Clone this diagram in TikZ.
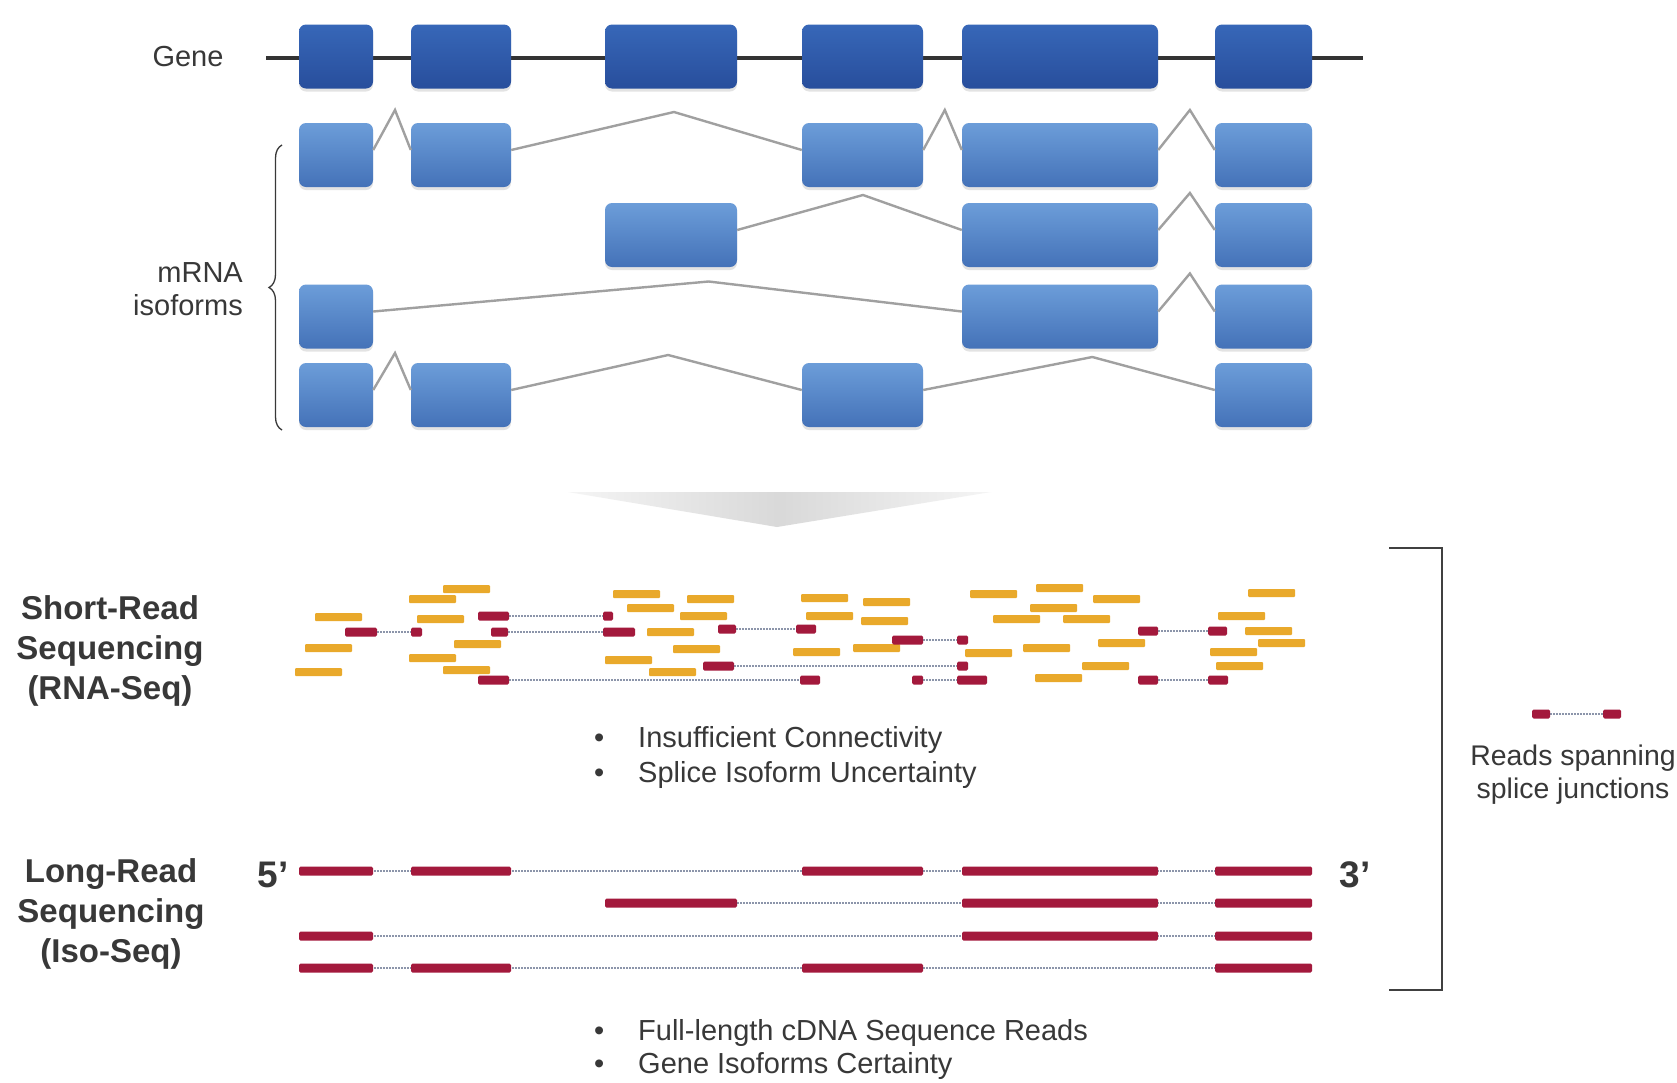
\documentclass[tikz,border=0pt]{standalone}
\usepackage{fontspec}
\setmainfont{Liberation Sans}
\usetikzlibrary{calc,decorations.pathreplacing,shadows}

\definecolor{genetop}{HTML}{3767B8}
\definecolor{genebot}{HTML}{284E9C}
\definecolor{isotop}{HTML}{6C9DD9}
\definecolor{isobot}{HTML}{4472B8}
\definecolor{readyel}{HTML}{E9A92B}
\definecolor{readred}{HTML}{A3193C}
\definecolor{txtgray}{HTML}{383838}
\definecolor{splicegray}{HTML}{A0A0A0}
\definecolor{dotblue}{HTML}{8C95AA}

\tikzset{
  exonbase/.style={rounded corners=7pt, draw=none, minimum height=64pt, inner sep=0pt,
    drop shadow={opacity=0.22, shadow xshift=0pt, shadow yshift=-3pt}},
  geneexon/.style={exonbase, top color=genetop, bottom color=genebot},
  isoexon/.style={exonbase, top color=isotop, bottom color=isobot},
  splice/.style={draw=splicegray, line width=2.4pt, line join=miter},
  geneline/.style={draw=black!80, line width=4pt},
  lbl/.style={text=txtgray, font=\fontsize{29}{34}\selectfont, inner sep=0pt},
  biglbl/.style={text=txtgray, font=\fontsize{33}{40}\selectfont\bfseries, align=center, inner sep=0pt},
  endlbl/.style={text=txtgray, font=\fontsize{37}{40}\selectfont\bfseries, inner sep=0pt},
  yel/.style={fill=readyel, rounded corners=1pt},
  redr/.style={fill=readred, rounded corners=1.5pt},
  dotline/.style={draw=dotblue, line width=1.3pt, dash pattern=on 1.5pt off 1.5pt},
  bracketline/.style={draw=black!75, line width=1.8pt},
  bracestyle/.style={draw=txtgray, line width=1.3pt, decorate, decoration={brace, amplitude=13pt}}
}

\newcommand\exonnode[5]{\node[#1, minimum width=#4pt-#3pt] (#2) at ({(#3+#4)/2},#5) {};}
\newcommand\splicejoin[4]{\draw[splice] ([yshift=5pt]#1.east) -- ($(#1.east)!#3!(#2.west)+(0,#4)$) -- ([yshift=5pt]#2.west);}
\newcommand\longread[3]{\fill[redr] (#1,{-#3+4.5}) rectangle (#2,{-#3-4.5});}

\begin{document}
\begin{tikzpicture}[x=1pt,y=1pt]
\useasboundingbox (0,0) rectangle (1677,-1082);
\fill[white] (0,0) rectangle (1677,-1082);

% ---------------- Gene ----------------
\coordinate (gl-start) at (266,-58);
\coordinate (gl-end) at (1363,-58);
\draw[geneline] (gl-start) -- (gl-end);
\exonnode{geneexon}{g1}{299}{373}{-56.5}
\exonnode{geneexon}{g2}{411}{511}{-56.5}
\exonnode{geneexon}{g3}{605}{737}{-56.5}
\exonnode{geneexon}{g4}{802}{923}{-56.5}
\exonnode{geneexon}{g5}{962}{1158}{-56.5}
\exonnode{geneexon}{g6}{1215}{1312}{-56.5}
\node[lbl, anchor=base] (genelbl) at (188,-66) {Gene};

% ---------------- Isoforms ----------------
% row 1
\exonnode{isoexon}{a1}{299}{373}{-155}
\exonnode{isoexon}{a2}{411}{511}{-155}
\exonnode{isoexon}{a4}{802}{923}{-155}
\exonnode{isoexon}{a5}{962}{1158}{-155}
\exonnode{isoexon}{a6}{1215}{1312}{-155}
\splicejoin{a1}{a2}{0.58}{45}
\splicejoin{a2}{a4}{0.56}{43}
\splicejoin{a4}{a5}{0.56}{45}
\splicejoin{a5}{a6}{0.56}{45}
% row 2
\exonnode{isoexon}{b3}{605}{737}{-235}
\exonnode{isoexon}{b5}{962}{1158}{-235}
\exonnode{isoexon}{b6}{1215}{1312}{-235}
\splicejoin{b3}{b5}{0.56}{40}
\splicejoin{b5}{b6}{0.56}{42}
% row 3
\exonnode{isoexon}{c1}{299}{373}{-316.5}
\exonnode{isoexon}{c5}{962}{1158}{-316.5}
\exonnode{isoexon}{c6}{1215}{1312}{-316.5}
\splicejoin{c1}{c5}{0.57}{35}
\splicejoin{c5}{c6}{0.56}{43}
% row 4
\exonnode{isoexon}{d1}{299}{373}{-395}
\exonnode{isoexon}{d2}{411}{511}{-395}
\exonnode{isoexon}{d4}{802}{923}{-395}
\exonnode{isoexon}{d6}{1215}{1312}{-395}
\splicejoin{d1}{d2}{0.58}{42}
\splicejoin{d2}{d4}{0.54}{40}
\splicejoin{d4}{d6}{0.58}{38}

\coordinate (brace-bot) at (282,-430);
\coordinate (brace-top) at (282,-145);
\draw[bracestyle] (brace-bot) -- (brace-top);
\node[lbl, anchor=base east] (mrnalbl) at (243,-282) {mRNA};
\node[lbl, anchor=base east] (isolbl) at (243,-315) {isoforms};

% ---------------- Chevron ----------------
\shade[left color=gray!8, right color=gray!8, middle color=gray!30]
  (568,-492) -- (991,-492) -- (777,-527) -- cycle;

% ---------------- Short reads ----------------
\node[biglbl] (srlbl) at (110,-651) {Short-Read\\Sequencing\\(RNA-Seq)};

\foreach \x/\y in {443/589,409/599,315/617,417/619,305/648,454/644,409/658,443/670,295/672,
  613/594,627/608,605/660,687/599,680/616,647/632,673/649,649/672,
  801/598,863/602,806/616,861/621,793/652,853/648,
  970/594,965/653,1036/588,1093/599,1030/608,993/619,1063/619,1098/643,1023/648,1082/666,1035/678,
  1248/593,1218/616,1245/631,1258/643,1210/652,1216/666}
{
  \fill[yel] (\x,{-\y+4}) rectangle ({\x+47},{-\y-4});
}

\foreach \y/\a/\b/\c/\d in {632/345/377/411/422, 616/478/509/603/613, 632/491/508/603/635,
  680/478/509/800/820, 629/718/736/796/816, 640/892/923/957/968, 666/703/734/957/968,
  680/912/923/957/987, 631/1138/1158/1208/1227, 680/1138/1158/1208/1228}
{
  \draw[dotline] (\b,-\y) -- (\c,-\y);
  \fill[redr] (\a,{-\y+4.5}) rectangle (\b,{-\y-4.5});
  \fill[redr] (\c,{-\y+4.5}) rectangle (\d,{-\y-4.5});
}

\node[lbl, anchor=base west] (b1) at (594,-747) {•};
\node[lbl, anchor=base west] (t1) at (638,-747) {Insufficient Connectivity};
\node[lbl, anchor=base west] (b2) at (594,-782) {•};
\node[lbl, anchor=base west] (t2) at (638,-782) {Splice Isoform Uncertainty};

% ---------------- Long reads ----------------
\node[biglbl] (lrlbl) at (111,-914) {Long-Read\\Sequencing\\(Iso-Seq)};
\node[endlbl] (five) at (273,-875) {5’};
\node[endlbl] (three) at (1355,-875) {3’};

\draw[dotline] (299,-871) -- (1312,-871);
\draw[dotline] (605,-903) -- (1312,-903);
\draw[dotline] (299,-936) -- (1312,-936);
\draw[dotline] (299,-968) -- (1312,-968);
\foreach \a/\b in {299/373,411/511,802/923,962/1158,1215/1312} {\longread{\a}{\b}{871}}
\foreach \a/\b in {605/737,962/1158,1215/1312} {\longread{\a}{\b}{903}}
\foreach \a/\b in {299/373,962/1158,1215/1312} {\longread{\a}{\b}{936}}
\foreach \a/\b in {299/373,411/511,802/923,1215/1312} {\longread{\a}{\b}{968}}

\node[lbl, anchor=base west] (b3) at (594,-1040) {•};
\node[lbl, anchor=base west] (t3) at (638,-1040) {Full-length cDNA Sequence Reads};
\node[lbl, anchor=base west] (b4) at (594,-1073) {•};
\node[lbl, anchor=base west] (t4) at (638,-1073) {Gene Isoforms Certainty};

% ---------------- Bracket and legend ----------------
\coordinate (bk1) at (1389,-548);
\coordinate (bk2) at (1442,-548);
\coordinate (bk3) at (1442,-990);
\coordinate (bk4) at (1389,-990);
\draw[bracketline] (bk1) -- (bk2) -- (bk3) -- (bk4);

\draw[dotline] (1550,-714) -- (1603,-714);
\fill[redr] (1532,-709.5) rectangle (1550,-718.5);
\fill[redr] (1603,-709.5) rectangle (1621,-718.5);
\node[lbl, anchor=base, font=\fontsize{28.4}{33}\selectfont] (leg1) at (1573,-765) {Reads spanning};
\node[lbl, anchor=base, font=\fontsize{28.4}{33}\selectfont] (leg2) at (1573,-798) {splice junctions};
\end{tikzpicture}
\end{document}
